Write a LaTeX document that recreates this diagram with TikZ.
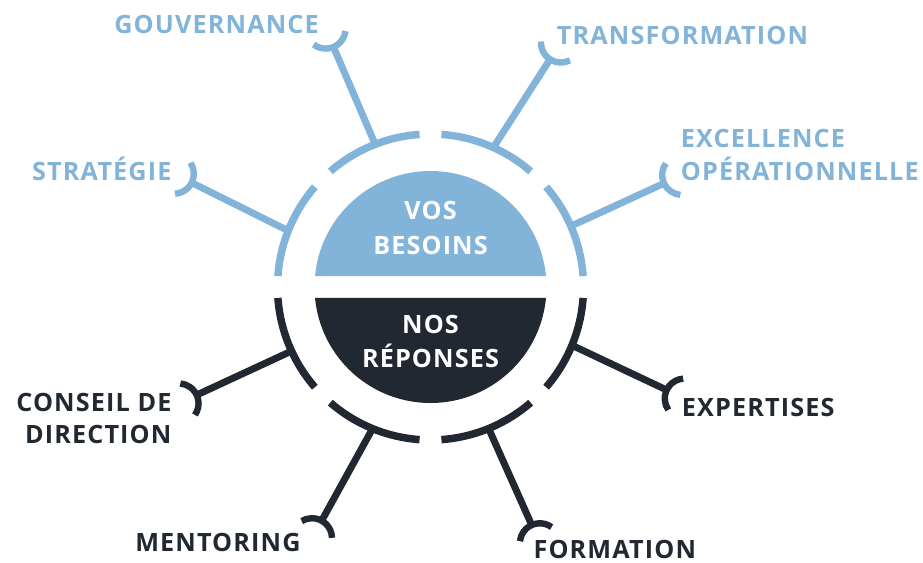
\documentclass[tikz,border=0pt]{standalone}
\usepackage{fontspec}
\setmainfont{Open Sans}
\newfontfamily\lblfont{Open Sans}[LetterSpace=4.5]
\usepackage{tikz}

\definecolor{besoin}{RGB}{130,179,217}
\definecolor{reponse}{RGB}{33,40,50}

\tikzset{
  lbl/.style={font=\lblfont\bfseries\fontsize{18.9}{24.75}\selectfont, inner sep=0pt},
  spoke/.style={line width=5.2pt},
  cupline/.style={line width=4.8pt},
  ringarc/.style={line width=5.6pt},
}

% spoke from ring to a cup: colour, inner end, outer end, direction
\newcommand{\spokecup}[4]{%
  \draw[spoke,#1] (#2) -- (#3);
  \draw[cupline,#1] ([shift={(#4:20)}]#3) ++(#4+120:20)
    arc[start angle=#4+120, delta angle=120, radius=20];
}

\begin{document}
\begin{tikzpicture}[x=0.75pt,y=0.75pt]
    \useasboundingbox (-430.5,-275) rectangle (492.5,287);

    % outer ring
    \foreach \a in {0,45,90,135}
      \draw[ringarc,besoin] ({\a+4.1}:153) arc[start angle=\a+4.1, end angle=\a+40.9, radius=153];
    \foreach \a in {180,225,270,315}
      \draw[ringarc,reponse] ({\a+4.1}:153) arc[start angle=\a+4.1, end angle=\a+40.9, radius=153];

    % inner halves
    \fill[besoin] (5.37:116) arc[start angle=5.37, end angle=174.63, radius=116] -- cycle;
    \fill[reponse] (-5.37:116) arc[start angle=-5.37, end angle=-174.63, radius=116] -- cycle;

    \node[lbl, text=white, anchor=base] (vos) at (0,68) {VOS};
    \node[lbl, text=white, anchor=base] (besoins) at (0,33) {BESOINS};
    \node[lbl, text=white, anchor=base] (nos) at (0,-46.3) {NOS};
    \node[lbl, text=white, anchor=base] (reponses) at (0,-80.3) {RÉPONSES};

    % spoke ends
    \coordinate (gouv-in) at (-55,142);
    \coordinate (gouv-out) at (-97,240);
    \coordinate (trans-in) at (61.8,137.8);
    \coordinate (trans-out) at (119.5,227.7);
    \coordinate (strat-in) at (-142.7,56.5);
    \coordinate (strat-out) at (-238.8,104.3);
    \coordinate (excel-in) at (138.3,59.9);
    \coordinate (excel-out) at (233.5,103.7);
    \coordinate (conseil-in) at (-139.3,-64.2);
    \coordinate (conseil-out) at (-233.8,-108);
    \coordinate (mentor-in) at (-58.1,-141.9);
    \coordinate (mentor-out) at (-108.8,-233.7);
    \coordinate (form-in) at (57.5,-140.1);
    \coordinate (form-out) at (101.2,-238);
    \coordinate (expert-in) at (140,-57.6);
    \coordinate (expert-out) at (236.2,-103);

    \spokecup{besoin}{gouv-in}{gouv-out}{113}
    \spokecup{besoin}{trans-in}{trans-out}{57}
    \spokecup{besoin}{strat-in}{strat-out}{153.5}
    \spokecup{besoin}{excel-in}{excel-out}{24.7}
    \spokecup{reponse}{conseil-in}{conseil-out}{204.9}
    \spokecup{reponse}{mentor-in}{mentor-out}{241}
    \spokecup{reponse}{form-in}{form-out}{294}
    \spokecup{reponse}{expert-in}{expert-out}{334.7}

    % labels
    \node[lbl, text=besoin, anchor=base east] (gouv) at (-111.5,253.7) {GOUVERNANCE};
    \node[lbl, text=besoin, anchor=base west] (trans) at (126.2,243) {TRANSFORMATION};
    \node[lbl, text=besoin, anchor=base east] (strat) at (-258.8,107) {STRATÉGIE};
    \node[lbl, text=besoin, anchor=base west] (excel) at (250.2,139.7) {EXCELLENCE};
    \node[lbl, text=besoin, anchor=base west] (operat) at (250.2,107) {OPÉRATIONNELLE};
    \node[lbl, text=reponse, anchor=base east] (conseil) at (-258.8,-124.7) {CONSEIL DE};
    \node[lbl, text=reponse, anchor=base east] (direction) at (-258.8,-156.3) {DIRECTION};
    \node[lbl, text=reponse, anchor=base west] (mentor) at (-295.5,-264.7) {MENTORING};
    \node[lbl, text=reponse, anchor=base west] (expert) at (251.2,-129) {EXPERTISES};
    \node[lbl, text=reponse, anchor=base west] (formation) at (102.8,-271.5) {FORMATION};
\end{tikzpicture}
\end{document}
